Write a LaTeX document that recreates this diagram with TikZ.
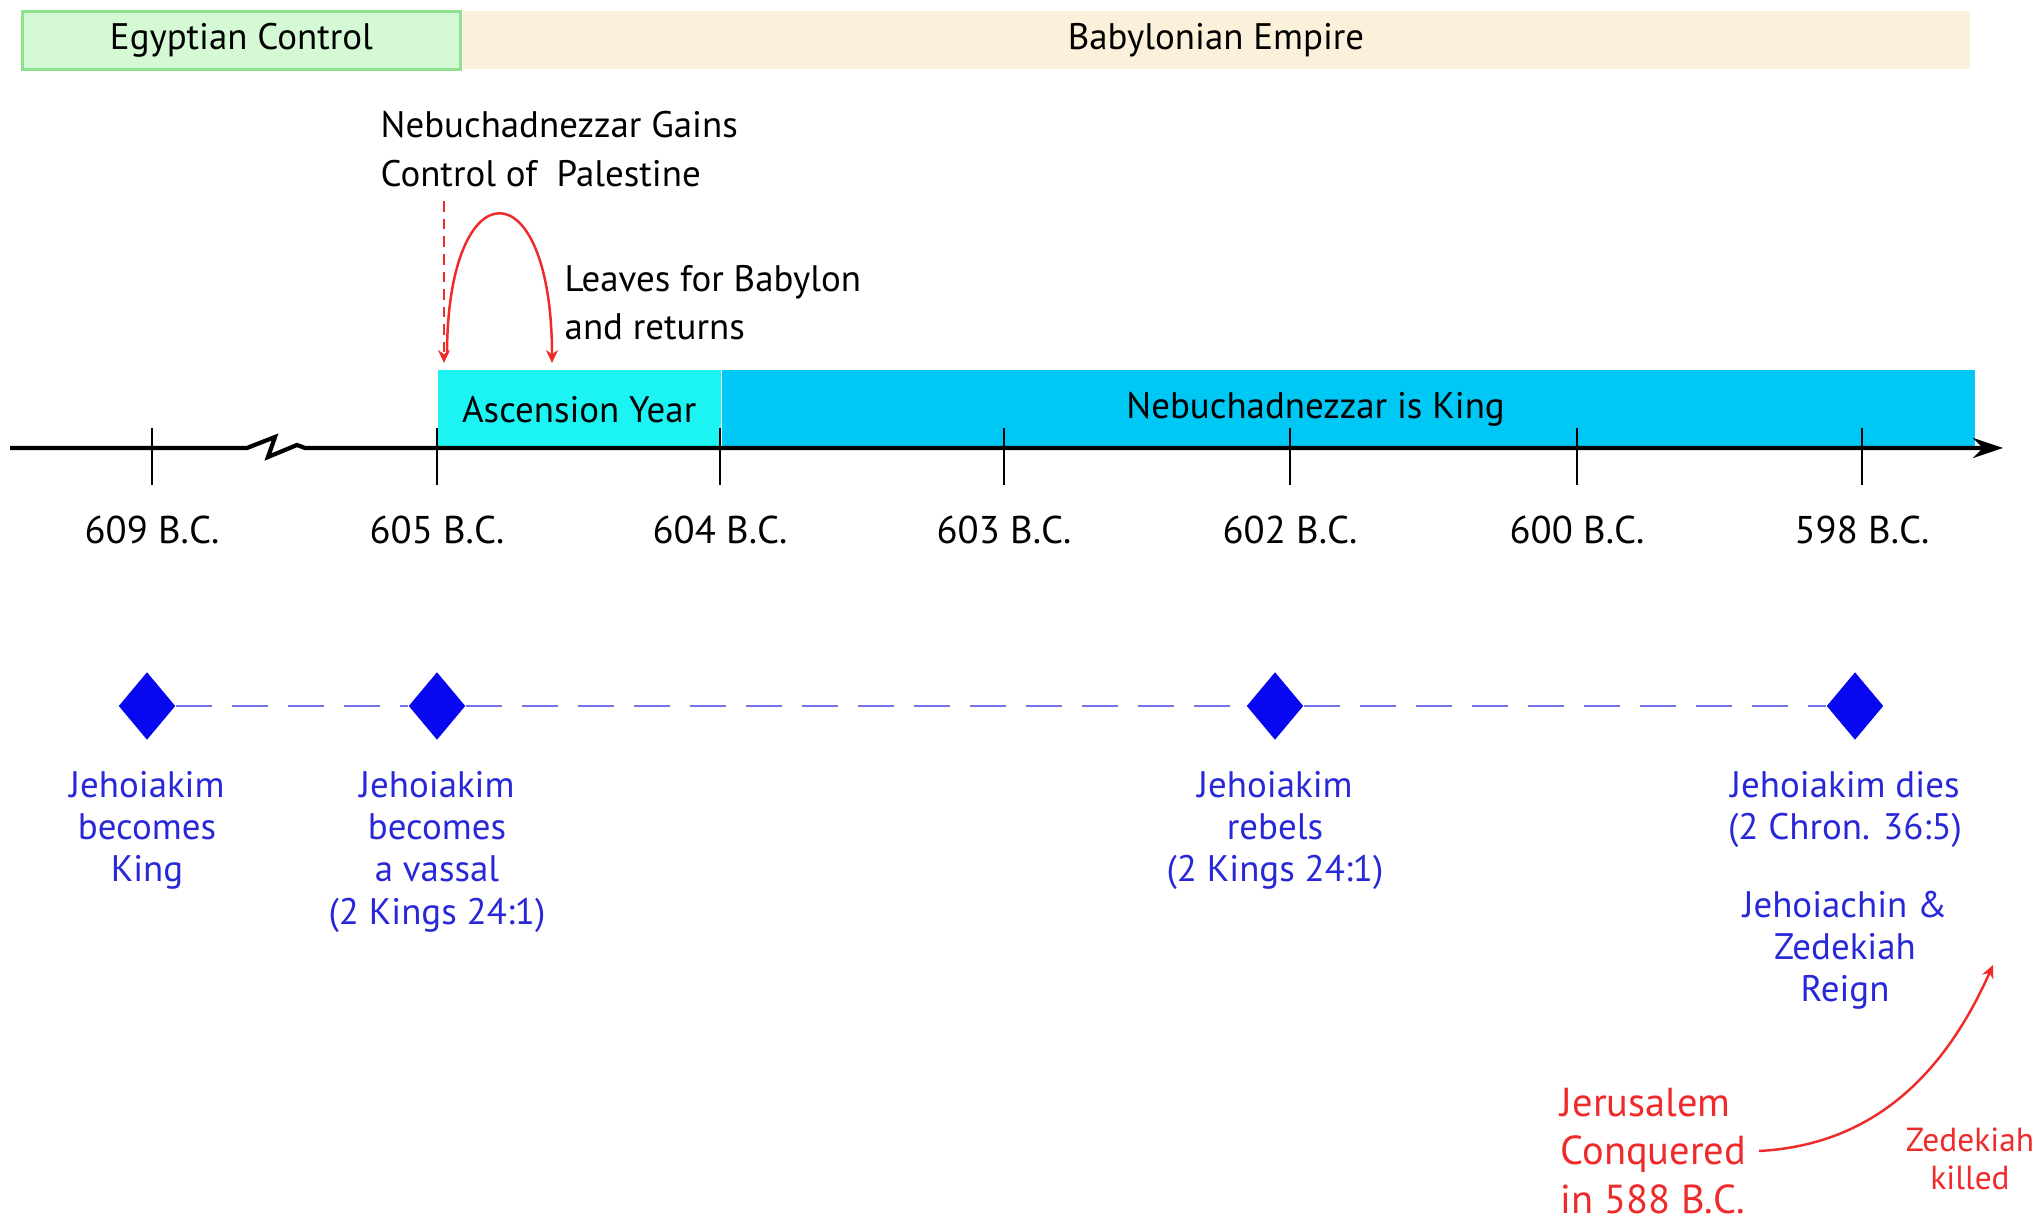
\documentclass[tikz,border=0pt]{standalone}
\usepackage{fontspec}
\setmainfont{PT Sans}
\usepackage{xcolor}
\usepackage{tikz}
\usetikzlibrary{calc}
\usetikzlibrary{positioning}
\usetikzlibrary{shapes.geometric}
\usetikzlibrary{arrows.meta}

\definecolor{egyfill}{HTML}{D4F9D4}
\definecolor{egyline}{HTML}{8EE28E}
\definecolor{babfill}{HTML}{FBF1DA}
\definecolor{ascfill}{HTML}{1CF4F4}
\definecolor{kingfill}{HTML}{00C8F4}
\definecolor{evblue}{HTML}{0808F0}
\definecolor{evtext}{HTML}{2828D8}
\definecolor{evdash}{HTML}{7474EA}
\definecolor{conqred}{HTML}{EE2A2A}

\begin{document}
\begin{tikzpicture}

        \def\d{.3cm}
        \def\h{.42cm}

        % Styles of the bars, the years and the events
        \tikzset{
            erabar/.style={anchor=north west, minimum height=.58cm,
                inner sep=0pt, font=\fontsize{10.5}{12}\selectfont},
            reignbar/.style={anchor=south west, minimum height=.78cm,
                inner sep=0pt, font=\fontsize{10.5}{12}\selectfont},
            yeartick/.style={line width=.7pt},
            yearlabel/.style={font=\fontsize{11}{13}\selectfont},
            event/.style={diamond, fill=evblue, inner sep=0pt,
                minimum width=.57cm, minimum height=.68cm},
            eventtext/.style={text=evtext, align=center, inner sep=0pt,
                font=\fontsize{10.5}{12}\selectfont},
            note/.style={align=left, inner sep=0pt,
                font=\fontsize{10.5}{13.7}\selectfont},
            redarrow/.style={conqred, line width=.7pt,
                -{Stealth[length=.13cm, width=.12cm]}}
        }

        \useasboundingbox (0,0) rectangle (20.38,12.21);

        % Bars along the top and along the axis
        \begin{scope}
            \node[erabar, draw=egyline, fill=egyfill, line width=.8pt,
                minimum width=4.38cm] (EC) at (0.21,12.11) {Egyptian Control};
            \node[erabar, fill=babfill, minimum width=15.07cm,
                right=0pt of EC] (BE) {Babylonian Empire};

            \node[reignbar, fill=ascfill, minimum width=2.83cm]
                (AY) at (4.37,7.72) {Ascension Year};
            \node[reignbar, fill=kingfill, minimum width=12.53cm,
                right=0pt of AY] (NK)
                {\hspace*{-.66cm}Nebuchadnezzar is King};
        \end{scope}

        % The axis, its break and the years
        \coordinate (start) at (0.10,7.73);
        \coordinate (end) at (20.03,7.73);
        \draw[line width=1.2pt, line join=miter,
            -{Stealth[length=.3cm, width=.2cm]}]
            (start) -- (2.47,7.73) -- (2.75,7.84) -- (2.68,7.64)
            -- (2.97,7.76) -- (3.05,7.73) -- (end);

        \foreach \x/\yr [count=\i] in {1.52/609, 4.37/605, 7.20/604,
            10.04/603, 12.90/602, 15.77/600, 18.62/598}
        {
            \draw[yeartick] (\x,7.93) -- (\x,7.36);
            \node[yearlabel] (Y\i) at (\x,6.91) {\yr\ B.C.};
        }

        % Nebuchadnezzar goes and comes back
        \node[note, anchor=north west] (NG) at (3.80,11.10)
            {Nebuchadnezzar Gains\\Control of\ \ Palestine};
        \node[note, anchor=north west] (LB) at (5.64,9.56)
            {Leaves for Babylon\\and returns};
        \coordinate (gain) at (4.44,8.58);
        \coordinate (leave) at (4.47,8.66);
        \coordinate (back) at (5.52,8.58);
        \draw[redarrow, densely dashed]
            ($(NG.south west -| gain)+(0,-.14)$) -- (gain);
        \draw[redarrow] (leave) .. controls (4.47,10.55)
            and (5.52,10.55) .. (back);

        % The events
        \begin{scope}
            \node[event] (E1) at (1.47,5.15) {};
            \node[event] (E2) at (4.37,5.15) {};
            \node[event] (E3) at (12.75,5.15) {};
            \node[event] (E4) at (18.55,5.15) {};

            \node[eventtext] (T1) [below=\d of E1]
            {Jehoiakim\\becomes\\King};
            \node[eventtext] (T2) [below=\d of E2]
            {Jehoiakim\\becomes\\a vassal\\(2 Kings 24:1)};
            \node[eventtext] (T3) [below=\d of E3]
            {Jehoiakim\\rebels\\(2 Kings 24:1)};
            \node[eventtext] (T4) [below=\d of E4, xshift=-.1cm]
            {Jehoiakim dies\\(2 Chron. 36:5)};
            \node[eventtext] (T5) [below=\h of T4]
            {Jehoiachin \&\\Zedekiah\\Reign};
        \end{scope}

        \begin{scope}[evdash, line width=.6pt, dash pattern=on .36cm off .2cm]
            \foreach \a/\b in {1/2, 2/3, 3/4}
            \draw (E\a) -- (E\b);
        \end{scope}

        % Jerusalem falls
        \node[note, text=conqred, anchor=west,
            font=\fontsize{11.5}{13.8}\selectfont] (JC) at (15.60,0.70)
            {Jerusalem\\Conquered\\in 588 B.C.};
        \node[eventtext, text=conqred, font=\fontsize{9.5}{11}\selectfont]
            (ZK) at (19.70,0.62) {Zedekiah\\killed};
        \coordinate (killed) at (19.93,2.56);
        \draw[redarrow] ($(JC.east)+(.12,0)$) to[out=3, in=246] (killed);

        \end{tikzpicture}
\end{document}
